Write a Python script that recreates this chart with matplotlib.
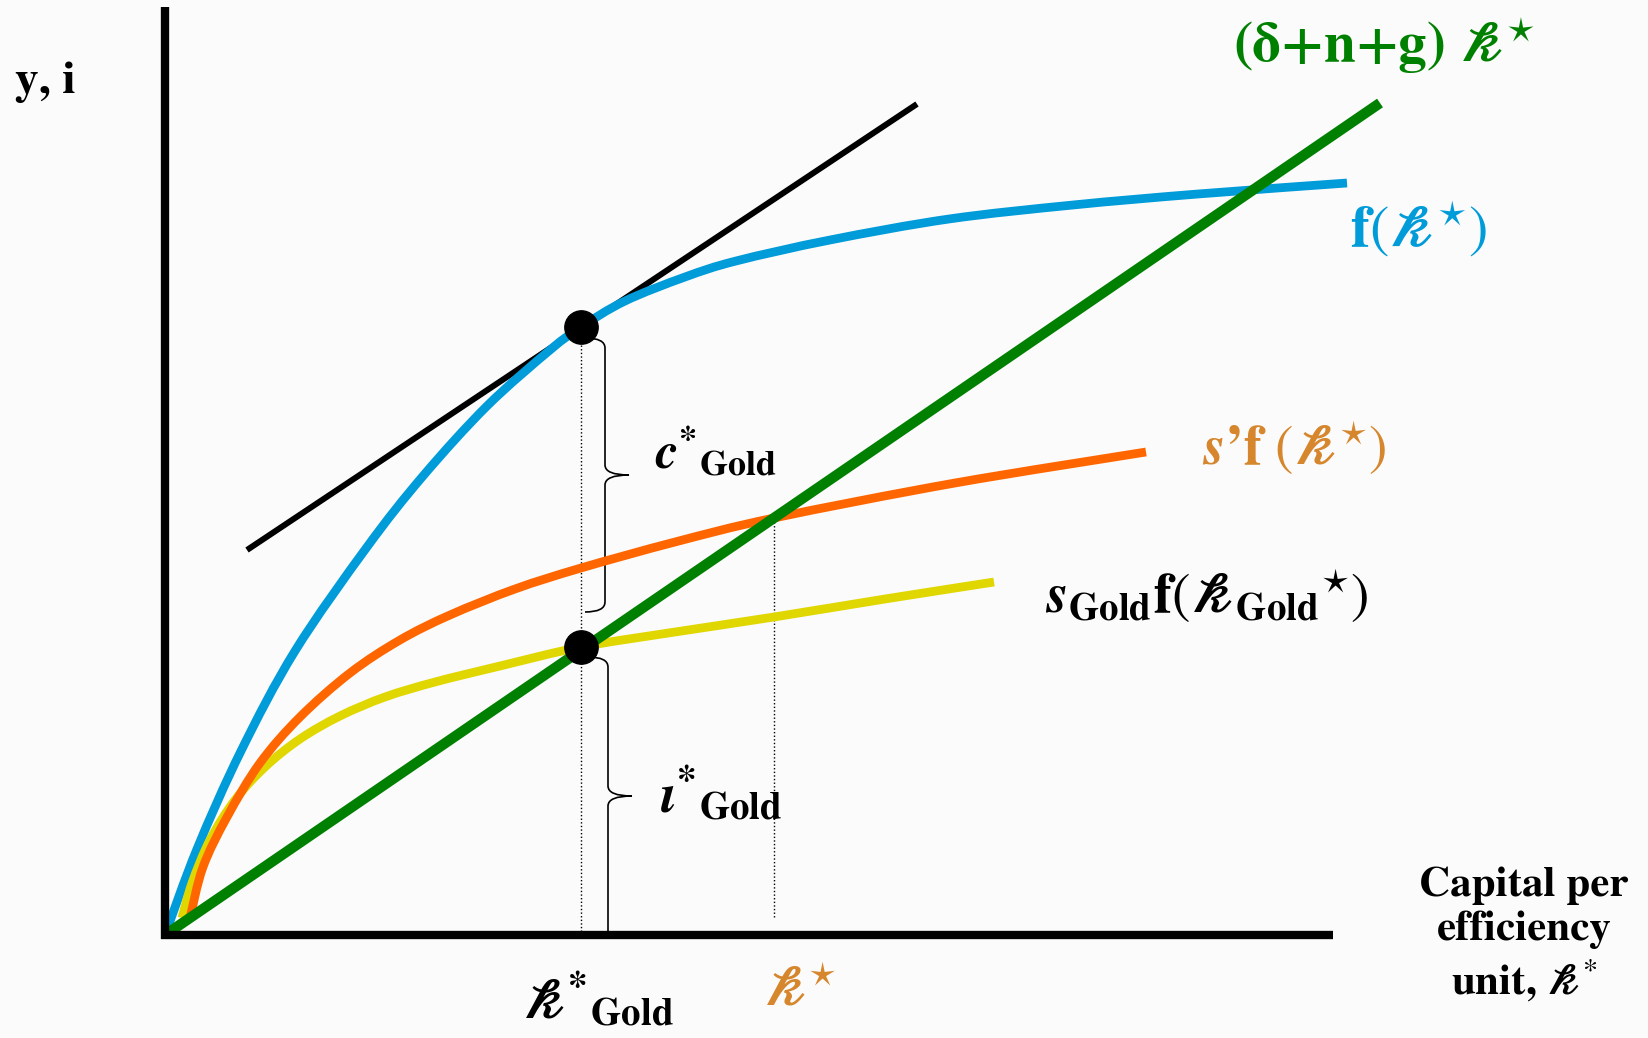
import matplotlib.pyplot as plt
from matplotlib.path import Path
from matplotlib.patches import PathPatch

plt.rcParams['mathtext.fontset'] = 'stix'
plt.rcParams['font.family'] = ['STIXGeneral', 'Liberation Serif', 'DejaVu Serif']

# output per efficiency unit, f(k)
k_f = [0.00, 0.32, 0.76, 1.30, 2.02, 2.58, 3.22, 3.85, 4.16, 4.60,
       5.20, 5.71, 6.65, 7.84, 9.08, 10.33, 11.82]
f_vals = [0.00, 0.86, 1.84, 2.84, 3.88, 4.59, 5.29, 5.85, 6.08, 6.34,
          6.58, 6.74, 6.95, 7.16, 7.30, 7.41, 7.52]

# investment at the higher saving rate, s'f(k)
k_sp = [0.25, 0.38, 0.62, 0.95, 1.35, 1.85, 2.35, 2.85, 3.50, 4.16, 5.10,
        6.09, 7.90, 9.81]
sp_vals = [0.17, 0.68, 1.18, 1.72, 2.18, 2.62, 2.95, 3.20, 3.46, 3.67, 3.93,
           4.17, 4.52, 4.83]

# investment at the golden-rule saving rate
k_sg = [0.17, 0.27, 0.45, 0.70, 1.00, 1.35, 1.75, 2.20, 2.70, 3.35, 4.16,
        5.10, 6.09, 7.20, 8.29]
sg_vals = [0.17, 0.52, 0.95, 1.35, 1.68, 1.96, 2.19, 2.38, 2.53, 2.69, 2.88,
           3.03, 3.18, 3.36, 3.53]

# break-even investment (delta + n + g) k
k_be = [0.0, 12.15]
be_vals = [0.0, 8.32]

# tangent to f(k) at the golden-rule capital stock
k_tan = [0.82, 7.52]
tan_vals = [3.85, 8.31]

k_gold = 4.16
y_gold = 6.08
i_gold = 2.88
k_star = 6.09
i_star = 4.17

BLUE = '#009bd9'
GREEN = '#008000'
ORANGE = '#ff6600'
ORANGE_TXT = '#d6862c'
YELLOW = '#e0d700'

K = '\U0001D4F4'  # bold script small k


def smooth(ax, xs, ys, **kw):
    """Draw a smooth curve through the points (Catmull-Rom as cubic Beziers)."""
    pts = list(zip(xs, ys))
    verts = [pts[0]]
    codes = [Path.MOVETO]
    n = len(pts)
    for i in range(n - 1):
        p0 = pts[i - 1] if i > 0 else pts[i]
        p1, p2 = pts[i], pts[i + 1]
        p3 = pts[i + 2] if i + 2 < n else pts[i + 1]
        c1 = (p1[0] + (p2[0] - p0[0]) / 6, p1[1] + (p2[1] - p0[1]) / 6)
        c2 = (p2[0] - (p3[0] - p1[0]) / 6, p2[1] - (p3[1] - p1[1]) / 6)
        verts += [c1, c2, p2]
        codes += [Path.CURVE4] * 3
    ax.add_patch(PathPatch(Path(verts, codes), fill=False, capstyle='butt',
                           joinstyle='round', **kw))


def brace(ax, x, y_top, y_bot, tip=0.24, curl=0.2, r=0.1, bottom_curl=True):
    """Right-pointing curly brace between y_top and y_bot."""
    ym = (y_top + y_bot) / 2
    verts = [(x - curl, y_top), (x, y_top), (x, y_top - r),
             (x, ym + r),
             (x, ym), (x + tip, ym),
             (x, ym), (x, ym - r)]
    codes = [Path.MOVETO, Path.CURVE3, Path.CURVE3,
             Path.LINETO,
             Path.CURVE3, Path.CURVE3,
             Path.CURVE3, Path.CURVE3]
    if bottom_curl:
        verts += [(x, y_bot + r), (x, y_bot), (x - curl, y_bot)]
        codes += [Path.LINETO, Path.CURVE3, Path.CURVE3]
    else:
        verts += [(x, y_bot)]
        codes += [Path.LINETO]
    ax.add_patch(PathPatch(Path(verts, codes), fill=False, lw=1.2,
                           edgecolor='black', zorder=3))


fig = plt.figure(figsize=(16.49, 10.38), dpi=100, facecolor='#fbfbfb')
ax = fig.add_axes([0, 0, 1, 1])
ax.set_facecolor('#fbfbfb')
ax.set_xlim(-1.65, 14.84)
ax.set_ylim(-1.03, 9.35)
ax.axis('off')

# axes
ax.plot([-0.04, 11.68], [0, 0], color='black', lw=6, solid_capstyle='butt', zorder=6)
ax.plot([0, 0], [-0.04, 9.28], color='black', lw=6, solid_capstyle='butt', zorder=6)

# guide lines
dot = (0, (1, 1.6))
ax.plot([k_gold, k_gold], [0, y_gold], color='black', lw=1, ls=dot, zorder=2)
ax.plot([k_star, k_star], [0.18, i_star], color='black', lw=1, ls=dot, zorder=2)

# curves
ax.plot(k_tan, tan_vals, color='black', lw=4.3, solid_capstyle='butt', zorder=4)
smooth(ax, k_f, f_vals, edgecolor=BLUE, lw=6.3, zorder=4)
smooth(ax, k_sg, sg_vals, edgecolor=YELLOW, lw=6.3, zorder=4)
smooth(ax, k_sp, sp_vals, edgecolor=ORANGE, lw=6.3, zorder=4)
ax.plot(k_be, be_vals, color=GREEN, lw=7.5, solid_capstyle='butt', zorder=5)

ax.plot([k_gold, k_gold], [y_gold, i_gold], 'o', color='black', ms=24, zorder=7)

# consumption and investment braces
brace(ax, 4.40, y_gold - 0.11, i_gold + 0.35)
brace(ax, 4.43, i_gold - 0.10, 0.0, bottom_curl=False)

# labels
ax.text(-1.50, 8.42, 'y, i', fontsize=34, fontweight='bold', va='baseline')
ax.text(10.68, 8.73, '(δ+n+g) $\\mathbfit{' + K + '}^{\\star}$', fontsize=41,
        fontweight='bold', color=GREEN, va='baseline')
ax.text(11.85, 6.88, '$\\mathbf{f}(\\mathbfit{' + K + '}^{\\star})$', fontsize=42,
        color=BLUE, va='baseline')
ax.text(10.37, 4.70, '$\\mathbfit{s}\\mathbf{’f}\\ (\\mathbfit{' + K + '}^{\\star})$',
        fontsize=40, color=ORANGE_TXT, va='baseline')
ax.text(8.80, 3.22,
        '$\\mathbfit{s}_{\\mathbf{Gold}}\\mathbf{f}(\\mathbfit{' + K
        + '}_{\\mathbf{Gold}}{}^{\\star})$',
        fontsize=40, color='black', va='baseline')
ax.text(4.90, 4.65, r'$\mathbfit{c}^{\mathbf{*}}{}_{\mathbf{Gold}}$', fontsize=37,
        va='baseline')
ax.text(4.95, 1.23, r'$\mathbfit{\imath}^{\mathbf{*}}{}_{\mathbf{Gold}}$', fontsize=40,
        va='baseline')
ax.text(3.57, -0.83, '$\\mathbfit{' + K + '}^{\\mathbf{*}}{}_{\\mathbf{Gold}}$',
        fontsize=40, va='baseline')
ax.text(5.98, -0.70, '$\\mathbfit{' + K + '}^{\\star}$', fontsize=40,
        color=ORANGE_TXT, va='baseline')
ax.text(13.59, 0.0, 'Capital per\nefficiency\nunit, $\\mathbfit{' + K + '}^{*}$',
        fontsize=31, fontweight='bold', ha='center', va='center',
        multialignment='center', linespacing=1.2)

fig.savefig('out.png', dpi=100, facecolor=fig.get_facecolor())
